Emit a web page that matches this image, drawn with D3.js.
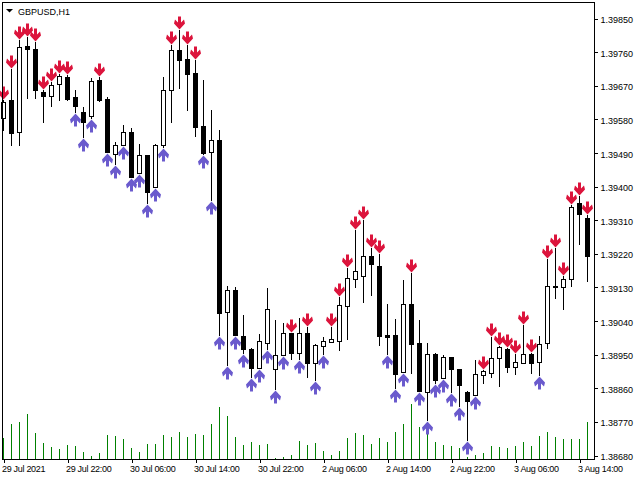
<!DOCTYPE html>
<html>
<head>
<meta charset="utf-8">
<script src="https://cdn.jsdelivr.net/npm/d3@7"></script>
<style>
  body { margin: 0; background: #fff; }
  svg { display: block; }
  text { font-family: "Liberation Sans", Arial, sans-serif; }
</style>
</head>
<body>
<div id="container"></div>
<script>
// GBPUSD H1, 29 Jul 14:00 .. 3 Aug 15:00
let opens = [1.39583,1.39630,1.39546,1.39775,1.39766,1.39651,1.39642,1.39672,1.39693,1.39638,
  1.39597,1.39588,1.39684,1.39633,1.39485,1.39509,1.39544,1.39436,1.39482,1.39398,
  1.39509,1.39656,1.39764,1.39740,1.39703,1.39561,1.39490,1.39523,1.39064,1.39122,
  1.38999,1.38965,1.38914,1.38981,1.38911,1.38947,1.39006,1.38952,1.39006,1.38927,
  1.38973,1.38983,1.38986,1.39080,1.39152,1.39160,1.39213,1.39186,1.39001,1.39001,
  1.38903,1.39084,1.38980,1.38850,1.38950,1.38885,1.38942,1.38910,1.38848,1.38841,
  1.38895,1.38900,1.38939,1.38964,1.38916,1.38926,1.38950,1.38930,1.38979,1.39131,
  1.39129,1.39150,1.39354,1.39315];
let highs = [1.39630,1.39713,1.39791,1.39800,1.39787,1.39657,1.39679,1.39700,1.39697,1.39657,
  1.39613,1.39689,1.39693,1.39638,1.39518,1.39564,1.39555,1.39513,1.39483,1.39513,
  1.39691,1.39778,1.39818,1.39778,1.39738,1.39684,1.39604,1.39550,1.39133,1.39131,
  1.39055,1.38967,1.39004,1.39126,1.39041,1.39033,1.39007,1.39046,1.39022,1.38977,
  1.38997,1.39022,1.39102,1.39180,1.39282,1.39309,1.39233,1.39217,1.39084,1.39044,
  1.39149,1.39167,1.39041,1.38980,1.38954,1.38948,1.38942,1.38910,1.38851,1.38934,
  1.38908,1.38995,1.38972,1.38967,1.38950,1.39029,1.38953,1.38999,1.39204,1.39233,
  1.39160,1.39349,1.39374,1.39323];
let lows = [1.39550,1.39510,1.39510,1.39636,1.39637,1.39572,1.39615,1.39630,1.39630,1.39599,
  1.39532,1.39582,1.39629,1.39491,1.39459,1.39509,1.39425,1.39436,1.39356,1.39398,
  1.39505,1.39572,1.39663,1.39604,1.39534,1.39486,1.39363,1.39001,1.38921,1.39001,
  1.38953,1.38890,1.38914,1.38964,1.38857,1.38947,1.38936,1.38937,1.38890,1.38881,
  1.38950,1.38983,1.38961,1.38991,1.39131,1.39090,1.39108,1.38975,1.38950,1.38859,
  1.38902,1.38899,1.38851,1.38774,1.38873,1.38885,1.38850,1.38811,1.38720,1.38841,
  1.38874,1.38890,1.38865,1.38901,1.38896,1.38926,1.38900,1.38894,1.38967,1.39101,
  1.39070,1.39133,1.39244,1.39147];
let closes = [1.39624,1.39543,1.39772,1.39768,1.39657,1.39642,1.39671,1.39696,1.39633,1.39615,
  1.39572,1.39681,1.39630,1.39492,1.39509,1.39544,1.39425,1.39482,1.39385,1.39509,
  1.39656,1.39764,1.39738,1.39701,1.39559,1.39488,1.39523,1.39061,1.39122,1.39001,
  1.38965,1.38914,1.38985,1.39071,1.38948,1.39007,1.38952,1.39006,1.38927,1.38975,
  1.38985,1.38990,1.39082,1.39153,1.39173,1.39213,1.39191,1.38999,1.38997,1.38897,
  1.39084,1.38977,1.38851,1.38950,1.38881,1.38942,1.38911,1.38867,1.38825,1.38896,
  1.38906,1.38939,1.38970,1.38916,1.38928,1.38950,1.38926,1.38977,1.39133,1.39133,
  1.39151,1.39345,1.39324,1.39214];
let volumes = [1115,1785,1915,2285,1365,865,665,565,765,715,
  415,215,365,1265,1215,1065,615,415,815,815,
  1265,1165,1415,1165,1315,1265,1815,2665,2215,1165,
  765,915,765,815,115,165,265,965,765,865,
  465,265,465,1115,1365,1265,815,1115,915,1415,
  1815,2815,1665,1315,915,765,715,615,165,265,
  365,715,665,615,715,915,715,1215,1415,1165,
  1065,1065,1065,1915];

// bars with a sell signal (arrow above) and a buy signal (arrow below)
let sellSignals = [0,1,2,3,4,5,6,7,8,12,21,22,23,24,36,38,41,42,43,44,45,46,47,51,
  60,61,62,63,64,65,66,68,69,70,71,72,73];
let buySignals = [9,10,11,13,14,15,16,17,18,19,20,25,26,27,28,29,30,31,32,33,34,35,
  37,39,40,48,49,50,52,53,54,55,56,57,58,59,67];

let timeTicks = [0,8,16,24,32,40,48,56,64,72];
let timeLabels = ["29 Jul 2021","29 Jul 22:00","30 Jul 06:00","30 Jul 14:00","30 Jul 22:00",
  "2 Aug 06:00","2 Aug 14:00","2 Aug 22:00","3 Aug 06:00","3 Aug 14:00"];
let priceTicks = [1.38680,1.38770,1.38860,1.38950,1.39040,1.39130,1.39220,
  1.39310,1.39400,1.39490,1.39580,1.39670,1.39760,1.39850];

let w = 640;
let h = 480;
let plotLeft = 2.5, plotRight = 594.5, plotTop = 2.5, plotBottom = 459.5;

let bars = opens.map(function(o, i){
  return {i: i, o: o, h: highs[i], l: lows[i], c: closes[i], v: volumes[i]};
});

let viz = d3.select("#container")
  .append("svg")
    .attr("width", w)
    .attr("height", h)
;

let xScale = d3.scaleLinear().domain([0, bars.length - 1]).range([3.5, 3.5 + 8 * (bars.length - 1)]);
let yScale = d3.scaleLinear().domain([1.38680, 1.39850]).range([455, 18]);
let volScale = d3.scaleLinear().domain([0, 3000]).range([0, 60]);

function py(p){ return Math.round(yScale(p)); }

// volumes
viz.append("g").attr("class", "volumes")
  .selectAll("line").data(bars).enter()
  .append("line")
    .attr("x1", function(d){ return xScale(d.i); })
    .attr("x2", function(d){ return xScale(d.i); })
    .attr("y1", plotBottom)
    .attr("y2", function(d){ return plotBottom - Math.round(volScale(d.v)); })
    .attr("stroke", "#008000")
    .attr("stroke-width", 1)
    .attr("shape-rendering", "crispEdges")
;

// candles
let candles = viz.append("g").attr("class", "candles")
  .attr("shape-rendering", "crispEdges")
  .selectAll("g").data(bars).enter()
  .append("g")
;
candles.append("line")
    .attr("x1", function(d){ return xScale(d.i); })
    .attr("x2", function(d){ return xScale(d.i); })
    .attr("y1", function(d){ return py(d.h); })
    .attr("y2", function(d){ return py(d.l) + 1; })
    .attr("stroke", "black")
;
candles.append("rect")
    .attr("x", function(d){ return xScale(d.i) - 2; })
    .attr("y", function(d){ return py(Math.max(d.o, d.c)) + 0.5; })
    .attr("width", 4)
    .attr("height", function(d){ return Math.max(py(Math.min(d.o, d.c)) - py(Math.max(d.o, d.c)), 1); })
    .attr("fill", function(d){ return d.c >= d.o ? "white" : "black"; })
    .attr("stroke", "black")
;

// signal arrows
let downArrow = "M-1.5,-13 H1.5 V-7 L4.5,-10 L5.5,-6 L0,0 L-5.5,-6 L-4.5,-10 L-1.5,-7 Z";
let upArrow = "M-1.5,13 H1.5 V7 L4.5,10 L5.5,6 L0,0 L-5.5,6 L-4.5,10 L-1.5,7 Z";

viz.append("g").attr("class", "sells")
  .selectAll("path").data(sellSignals).enter()
  .append("path")
    .attr("d", downArrow)
    .attr("fill", "#dc143c")
    .attr("transform", function(d){ return "translate(" + xScale(d) + "," + (py(highs[d]) - 0.5) + ")"; })
;
viz.append("g").attr("class", "buys")
  .selectAll("path").data(buySignals).enter()
  .append("path")
    .attr("d", upArrow)
    .attr("fill", "#6a5acd")
    .attr("transform", function(d){ return "translate(" + xScale(d) + "," + (py(lows[d]) + 1.5) + ")"; })
;

// frame
viz.append("rect")
    .attr("x", plotLeft)
    .attr("y", plotTop)
    .attr("width", plotRight - plotLeft)
    .attr("height", plotBottom - plotTop)
    .attr("fill", "none")
    .attr("stroke", "black")
    .attr("shape-rendering", "crispEdges")
;

// price axis
let yAxisGroup = viz.append("g").attr("class", "yaxis");
let yAxis = d3.axisRight(yScale).tickValues(priceTicks).tickFormat(d3.format(".5f")).tickSize(3).tickPadding(3);
yAxisGroup.call(yAxis);
yAxisGroup.attr("transform", "translate(" + plotRight + ", 0.5)");
yAxisGroup.select(".domain").remove();
yAxisGroup.selectAll("text").attr("font-family", "Liberation Sans, Arial, sans-serif").attr("font-size", 9).attr("dy", "0.45em").attr("fill", "black");
yAxisGroup.selectAll("line").attr("shape-rendering", "crispEdges");

// time axis
let xAxisGroup = viz.append("g").attr("class", "xaxis");
let xAxis = d3.axisBottom(xScale).tickValues(timeTicks)
  .tickFormat(function(d, i){ return timeLabels[i]; }).tickSize(3).tickPadding(3);
xAxisGroup.call(xAxis);
xAxisGroup.attr("transform", "translate(0," + plotBottom + ")");
xAxisGroup.select(".domain").remove();
xAxisGroup.selectAll("text")
    .attr("font-family", "Liberation Sans, Arial, sans-serif")
    .attr("font-size", 9)
    .attr("text-anchor", "start")
    .attr("x", -2)
    .attr("letter-spacing", "-0.3")
    .attr("fill", "black");
xAxisGroup.selectAll("line").attr("shape-rendering", "crispEdges");

// symbol title
viz.append("path")
    .attr("d", "M6,9 L13,9 L9.5,12.5 Z")
    .attr("fill", "black");
viz.append("text")
    .text("GBPUSD,H1")
    .attr("x", 18)
    .attr("y", 14.5)
    .attr("font-size", 9)
    .attr("fill", "black");
</script>
</body>
</html>
